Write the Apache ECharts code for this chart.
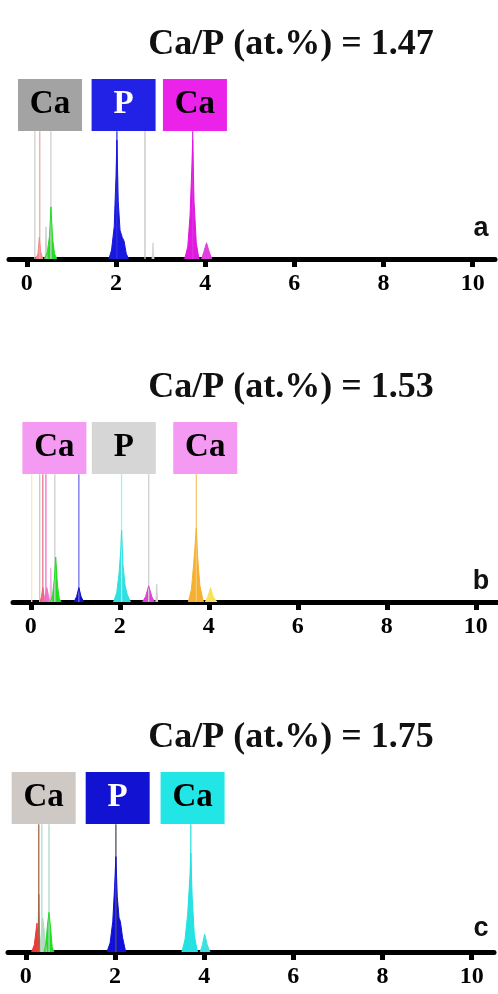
<!DOCTYPE html>
<html>
<head>
<meta charset="utf-8">
<style>
  html, body { margin: 0; padding: 0; background: #fff; }
  #chart { width: 498px; height: 994px; }
</style>
<script src="https://cdn.jsdelivr.net/npm/echarts@6/dist/echarts.min.js"></script>
</head>
<body>
<div id="chart"></div>
<script>
// energy axis (keV)
const tickValues = [0, 2, 4, 6, 8, 10];
const titles = ['Ca/P (at.%) = 1.47', 'Ca/P (at.%) = 1.53', 'Ca/P (at.%) = 1.75'];
const panelLetters = ['a', 'b', 'c'];
const boxText = ['Ca', 'P', 'Ca'];

// label box centres (keV) per panel
const boxPosA = [0.52, 2.17, 3.77];
const boxPosB = [0.53, 2.09, 3.92];
const boxPosC = [0.40, 2.06, 3.74];

// element marker lines (keV)
const markA = [0.18, 0.29, 0.54, 2.02, 2.65, 3.72];
const markB = [0.02, 0.20, 0.27, 0.34, 0.54, 1.08, 2.04, 2.65, 3.72];
const markC = [0.29, 0.36, 0.52, 2.02, 3.70];

// spectra, panel a  [keV, counts]
const aC   = [[0.20, 0], [0.25, 3], [0.28, 12], [0.31, 4], [0.36, 0]];
const aX   = [[0.41, 0], [0.43, 18], [0.45, 0]];
const aO   = [[0.40, 0], [0.46, 4], [0.51, 13], [0.54, 29], [0.58, 11], [0.62, 3], [0.67, 0]];
const aP   = [[1.84, 0], [1.90, 5], [1.96, 18], [2.00, 46], [2.02, 66], [2.05, 32], [2.09, 16], [2.14, 12], [2.18, 10], [2.23, 3], [2.28, 0]];
const aCl  = [[2.81, 0], [2.83, 9], [2.85, 0]];
const aCa  = [[3.54, 0], [3.61, 7], [3.66, 24], [3.70, 50], [3.72, 66], [3.75, 32], [3.80, 9], [3.86, 0]];
const aCaB = [[3.92, 0], [3.97, 4], [4.03, 9], [4.09, 4], [4.15, 0]];

// panel b
const bC   = [[0.21, 0], [0.24, 3], [0.27, 8], [0.30, 3], [0.33, 0]];
const bN   = [[0.29, 0], [0.33, 4], [0.36, 8], [0.40, 3], [0.44, 0]];
const bX   = [[0.43, 0], [0.45, 19], [0.47, 0]];
const bO   = [[0.44, 0], [0.49, 4], [0.53, 13], [0.56, 25], [0.60, 9], [0.64, 2], [0.68, 0]];
const bNa  = [[0.97, 0], [1.03, 3], [1.08, 8], [1.13, 3], [1.19, 0]];
const bP   = [[1.86, 0], [1.93, 5], [1.98, 15], [2.02, 28], [2.04, 40], [2.07, 21], [2.12, 9], [2.17, 4], [2.24, 0]];
const bCl  = [[2.51, 0], [2.58, 3], [2.65, 9], [2.72, 3], [2.78, 0]];
const bS   = [[2.81, 0], [2.83, 10], [2.85, 0]];
const bCa  = [[3.54, 0], [3.61, 7], [3.66, 21], [3.70, 34], [3.72, 41], [3.75, 25], [3.80, 9], [3.88, 0]];
const bCaB = [[3.92, 0], [3.98, 3], [4.04, 8], [4.10, 3], [4.18, 0]];

// panel c
const cC   = [[0.13, 0], [0.19, 4], [0.25, 16], [0.27, 9], [0.29, 0]];
const cX   = [[0.27, 0], [0.29, 32], [0.31, 0]];
const cN   = [[0.31, 0], [0.35, 12], [0.38, 19], [0.42, 10], [0.46, 0]];
const cO   = [[0.41, 0], [0.45, 5], [0.49, 16], [0.52, 22], [0.56, 12], [0.59, 3], [0.63, 0]];
const cP   = [[1.82, 0], [1.89, 5], [1.95, 17], [1.99, 36], [2.02, 53], [2.05, 31], [2.09, 19], [2.12, 17], [2.17, 8], [2.24, 0]];
const cCa  = [[3.50, 0], [3.57, 7], [3.63, 21], [3.68, 42], [3.70, 55], [3.73, 31], [3.78, 9], [3.85, 0]];
const cCaB = [[3.91, 0], [3.96, 4], [4.01, 10], [4.07, 4], [4.13, 0]];

const chart = echarts.init(document.getElementById('chart'));

const BOX_Y = 85.6;
const BOX_BOTTOM = 71;

const grids = [
  { left: 9,  top: 79,  width: 486, height: 180 },
  { left: 13, top: 422, width: 486, height: 180 },
  { left: 8,  top: 772, width: 486, height: 180 }
];

const serif = '"Liberation Serif", "Times New Roman", serif';

const xAxes = grids.map((g, i) => ({
  type: 'value', gridIndex: i, min: -0.4, max: 10.5,
  axisLine: { onZero: false, lineStyle: { color: '#000', width: 5 } },
  axisTick: { show: true, customValues: tickValues, length: 8, lineStyle: { color: '#000', width: 5 } },
  axisLabel: {
    customValues: tickValues, margin: 13, color: '#000',
    fontFamily: serif, fontWeight: 'bold', fontSize: 24
  },
  splitLine: { show: false }
}));
const yAxes = grids.map((g, i) => ({ type: 'value', gridIndex: i, min: 0, max: 100, show: false }));

const series = [];

function addMarks(panel, marks, colors) {
  marks.forEach((e, k) => {
    series.push({
      type: 'line', xAxisIndex: panel, yAxisIndex: panel, symbol: 'none', silent: true,
      data: [[e, 0], [e, BOX_BOTTOM]],
      lineStyle: { color: colors[k], width: 1.3 }
    });
  });
}
function addPeak(panel, data, color) {
  series.push({
    type: 'line', xAxisIndex: panel, yAxisIndex: panel, symbol: 'none', silent: true,
    data: data,
    lineStyle: { color: color, width: 1 },
    areaStyle: { color: color, opacity: 1 }
  });
}
function addBoxes(panel, pos, fills, textColors) {
  series.push({
    type: 'scatter', xAxisIndex: panel, yAxisIndex: panel, silent: true,
    symbol: 'rect', symbolSize: [64, 52],
    data: pos.map((e, k) => ({
      value: [e, BOX_Y], name: boxText[k],
      itemStyle: { color: fills[k], opacity: 1 },
      label: { color: textColors[k] }
    })),
    itemStyle: { opacity: 1 },
    label: {
      show: true, position: 'inside', formatter: '{b}',
      fontFamily: serif, fontWeight: 'bold', fontSize: 33
    }
  });
}

// panel a
addMarks(0, markA, ['#cfcfcf', '#f2a8a8', '#cfcfcf', '#3030e0', '#c4c4c4', '#e030e0']);
addPeak(0, aC, '#f08a8a');
addPeak(0, aX, '#d0d0d0');
addPeak(0, aO, '#22dd22');
addPeak(0, aP, '#1818e0');
addPeak(0, aCl, '#d6d6d6');
addPeak(0, aCa, '#e018e0');
addPeak(0, aCaB, '#e040e0');
addBoxes(0, boxPosA, ['#a3a3a3', '#2222e6', '#ea22ea'], ['#000', '#fff', '#000']);

// panel b
addMarks(1, markB, ['#fde6c4', '#c8c8c8', '#f07090', '#f070c8', '#cfcfcf', '#7070e8', '#a0f0f0', '#cfcfcf', '#f8c870']);
addPeak(1, bC, '#f06070');
addPeak(1, bN, '#f070d0');
addPeak(1, bX, '#f6b0e8');
addPeak(1, bO, '#22dd22');
addPeak(1, bNa, '#1010c8');
addPeak(1, bP, '#2ee0e0');
addPeak(1, bCl, '#e040d8');
addPeak(1, bS, '#d0d0d0');
addPeak(1, bCa, '#f5b030');
addPeak(1, bCaB, '#f8e060');
addBoxes(1, boxPosB, ['#f59af2', '#d6d6d6', '#f59af2'], ['#000', '#000', '#000']);

// panel c
addMarks(2, markC, ['#a06848', '#b0dcd8', '#a8d8c8', '#505060', '#30e0e0']);
addPeak(2, cC, '#f03838');
addPeak(2, cN, '#b8d8c0');
addPeak(2, cX, '#a06848');
addPeak(2, cO, '#22dd22');
addPeak(2, cP, '#1010d8');
addPeak(2, cCa, '#22e2e2');
addPeak(2, cCaB, '#40e0e0');
addBoxes(2, boxPosC, ['#cfc9c6', '#1212d2', '#22e6e6'], ['#000', '#fff', '#000']);

const titleY = [45, 388, 738];
const letterY = [229, 582, 929];
const graphic = [];
titles.forEach((t, i) => {
  graphic.push({
    type: 'text', x: 291, y: titleY[i], silent: true,
    style: { text: t, fill: '#111', font: 'bold 36px ' + serif, textAlign: 'center', textVerticalAlign: 'middle' }
  });
  graphic.push({
    type: 'text', x: 481, y: letterY[i], silent: true,
    style: { text: panelLetters[i], fill: '#111', font: 'bold 27px "Liberation Sans", Arial, sans-serif', textAlign: 'center', textVerticalAlign: 'middle' }
  });
});

chart.setOption({
  backgroundColor: '#fff',
  animation: false,
  grid: grids,
  xAxis: xAxes,
  yAxis: yAxes,
  series: series,
  graphic: graphic
});
</script>
</body>
</html>
